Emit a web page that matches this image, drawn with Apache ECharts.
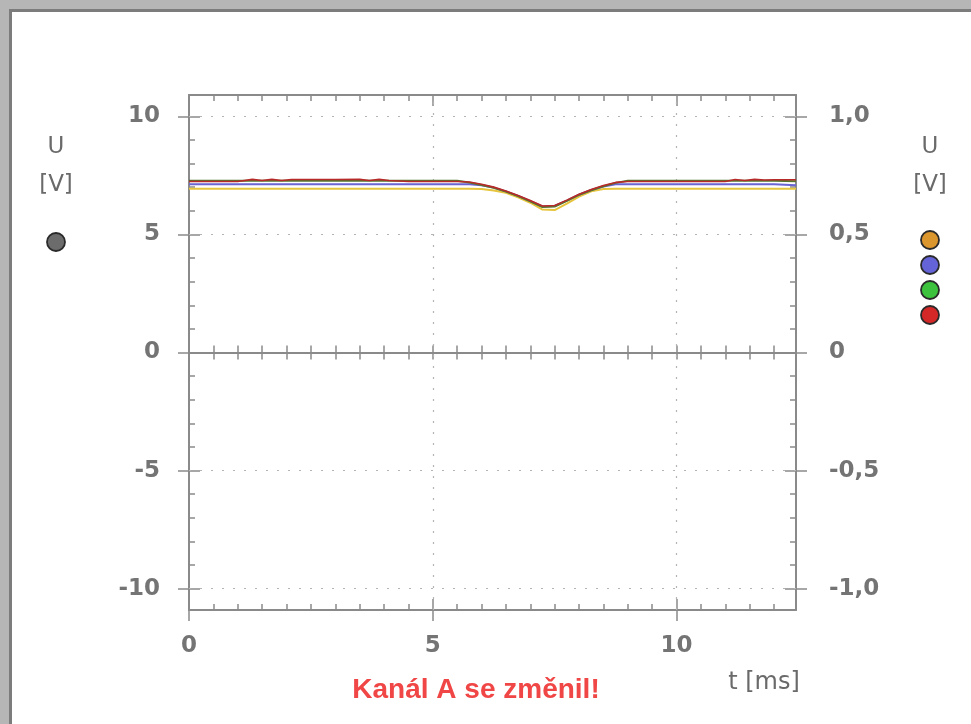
<!DOCTYPE html>
<html>
<head>
<meta charset="utf-8">
<script src="https://cdn.jsdelivr.net/npm/echarts@6/dist/echarts.min.js"></script>
<style>
  html, body { margin: 0; padding: 0; background: #ffffff; }
  #chart { width: 971px; height: 724px; }
</style>
</head>
<body>
<div id="chart"></div>
<script>
// Sample times of the captured traces [ms]
const timeMs = [0, 0.5, 1.0, 1.3, 1.5, 1.7, 1.9, 2.1,
  2.5, 3.0, 3.5, 3.7, 3.9, 4.1, 4.5, 5.0,
  5.5, 5.75, 6.0, 6.25, 6.5, 6.75, 7.0, 7.25,
  7.5, 7.75, 8.0, 8.25, 8.5, 8.75, 9.0, 9.5,
  10.0, 10.5, 11.0, 11.2, 11.4, 11.6, 11.8, 12.0,
  12.45];

// Channel voltages on the right-hand scale [V]
const kanalB = [0.693, 0.693, 0.693, 0.693, 0.693, 0.693, 0.693, 0.693,
  0.693, 0.693, 0.693, 0.693, 0.693, 0.693, 0.693, 0.693,
  0.693, 0.693, 0.692, 0.686, 0.676, 0.657, 0.634, 0.605,
  0.603, 0.630, 0.660, 0.682, 0.692, 0.693, 0.693, 0.693,
  0.693, 0.693, 0.693, 0.693, 0.693, 0.693, 0.693, 0.693,
  0.693];
const kanalC = [0.712, 0.712, 0.712, 0.712, 0.712, 0.712, 0.712, 0.712,
  0.712, 0.712, 0.712, 0.712, 0.712, 0.712, 0.712, 0.712,
  0.712, 0.712, 0.708, 0.698, 0.682, 0.663, 0.641, 0.618,
  0.620, 0.643, 0.668, 0.688, 0.703, 0.712, 0.712, 0.712,
  0.712, 0.712, 0.712, 0.712, 0.712, 0.712, 0.712, 0.712,
  0.708];
const kanalD = [0.727, 0.727, 0.727, 0.727, 0.727, 0.727, 0.727, 0.727,
  0.727, 0.727, 0.727, 0.727, 0.727, 0.727, 0.727, 0.727,
  0.727, 0.720, 0.709, 0.697, 0.681, 0.662, 0.640, 0.616,
  0.618, 0.642, 0.667, 0.687, 0.704, 0.718, 0.727, 0.727,
  0.727, 0.727, 0.727, 0.727, 0.727, 0.727, 0.727, 0.727,
  0.725];
const kanalE = [0.724, 0.724, 0.724, 0.733, 0.728, 0.733, 0.728, 0.732,
  0.732, 0.732, 0.733, 0.728, 0.733, 0.728, 0.724, 0.724,
  0.724, 0.722, 0.712, 0.700, 0.684, 0.665, 0.643, 0.620,
  0.622, 0.645, 0.670, 0.690, 0.707, 0.720, 0.724, 0.724,
  0.724, 0.724, 0.724, 0.732, 0.728, 0.733, 0.730, 0.731,
  0.731];

// Axis ticks
const leftTicks = [-10, -5, 0, 5, 10];
const leftMinorTicks = [-10, -9, -8, -7, -6, -5, -4, -3, -2, -1, 0, 1, 2, 3, 4, 5, 6, 7, 8, 9, 10];
const rightTicks = [-1.0, -0.5, 0, 0.5, 1.0];
const rightMinorTicks = [-1.0, -0.9, -0.8, -0.7, -0.6, -0.5, -0.4, -0.3, -0.2, -0.1, 0,
  0.1, 0.2, 0.3, 0.4, 0.5, 0.6, 0.7, 0.8, 0.9, 1.0];
const timeTicks = [0, 5, 10];
const timeMinorTicks = [0, 0.5, 1, 1.5, 2, 2.5, 3, 3.5, 4, 4.5, 5, 5.5, 6, 6.5, 7, 7.5, 8, 8.5, 9, 9.5, 10, 10.5, 11, 11.5, 12];
const gridTimes = [5, 10];
const gridVolts = [-1.0, -0.5, 0.5, 1.0];

const AXIS_GRAY = '#8a8a8a';
const LABEL_GRAY = '#6a6a6a';
const LABEL_FONT = { fontFamily: 'DejaVu Sans', fontWeight: 'bold', fontSize: 23, color: '#747474' };

const chart = echarts.init(document.getElementById('chart'), null, { renderer: 'canvas' });

function xAxisDef(o) {
  return Object.assign({
    type: 'value', min: 0, max: 12.45, position: 'bottom',
    axisLine: { show: false, onZero: false, lineStyle: { color: AXIS_GRAY, width: 2 } },
    axisTick: { show: false },
    axisLabel: { show: false },
    splitLine: { show: false }
  }, o);
}
function yAxisDef(o) {
  return Object.assign({
    type: 'value', position: 'left',
    axisLine: { show: false, onZero: false, lineStyle: { color: AXIS_GRAY, width: 2 } },
    axisTick: { show: false },
    axisLabel: { show: false },
    splitLine: { show: false }
  }, o);
}
function ticks(values, inside, length) {
  return { show: true, customValues: values, inside: inside, length: length,
    lineStyle: { color: AXIS_GRAY, width: 1.5 } };
}
const fmtRight = v => (Math.abs(v) < 1e-9 ? '0' : v.toFixed(1).replace('.', ','));

const xAxes = [
  // bottom frame with labels
  xAxisDef({
    axisLine: { show: true, onZero: false, lineStyle: { color: AXIS_GRAY, width: 2 } },
    axisTick: ticks(timeTicks, false, 11),
    axisLabel: Object.assign({ show: true, customValues: timeTicks, margin: 25 }, LABEL_FONT)
  }),
  xAxisDef({ axisTick: ticks(timeTicks, true, 11) }),
  xAxisDef({ axisTick: ticks(timeMinorTicks, true, 6) }),
  // top frame
  xAxisDef({
    position: 'top',
    axisLine: { show: true, onZero: false, lineStyle: { color: AXIS_GRAY, width: 2 } },
    axisTick: ticks(timeMinorTicks, true, 6)
  }),
  xAxisDef({ position: 'top', axisTick: ticks(timeTicks, true, 11) }),
  // zero line with crossing ticks
  xAxisDef({
    axisLine: { show: true, onZero: true, onZeroAxisIndex: 0, lineStyle: { color: AXIS_GRAY, width: 2 } },
    axisTick: ticks(timeMinorTicks, true, 7)
  }),
  xAxisDef({
    axisLine: { show: false, onZero: true, onZeroAxisIndex: 0 },
    axisTick: ticks(timeMinorTicks, false, 7)
  })
];

const yAxes = [
  // left scale (channel A)
  yAxisDef({
    min: -10.9, max: 10.9,
    axisLine: { show: true, onZero: false, lineStyle: { color: AXIS_GRAY, width: 2 } },
    axisTick: ticks(leftTicks, false, 11),
    axisLabel: Object.assign({ show: true, customValues: leftTicks, margin: 29 }, LABEL_FONT)
  }),
  yAxisDef({ min: -10.9, max: 10.9, axisTick: ticks(leftTicks, true, 11) }),
  yAxisDef({ min: -10.9, max: 10.9, axisTick: ticks(leftMinorTicks, true, 6) }),
  // right scale (channels B-E)
  yAxisDef({
    min: -1.09, max: 1.09, position: 'right',
    axisLine: { show: true, onZero: false, lineStyle: { color: AXIS_GRAY, width: 2 } },
    axisTick: ticks(rightTicks, false, 11),
    axisLabel: Object.assign({ show: true, customValues: rightTicks, margin: 33, formatter: fmtRight }, LABEL_FONT)
  }),
  yAxisDef({ min: -1.09, max: 1.09, position: 'right', axisTick: ticks(rightTicks, true, 11) }),
  yAxisDef({ min: -1.09, max: 1.09, position: 'right', axisTick: ticks(rightMinorTicks, true, 6) })
];

function trace(name, values, color, extra) {
  return Object.assign({
    name: name, type: 'line', xAxisIndex: 0, yAxisIndex: 3,
    data: timeMs.map((t, i) => [t, values[i]]),
    showSymbol: false, symbol: 'none',
    lineStyle: { color: color, width: 2 },
    itemStyle: { color: color },
    z: 3, animation: false
  }, extra || {});
}

const dotGrid = {
  silent: true, symbol: ['none', 'none'], z: 1, animation: false,
  label: { show: false },
  lineStyle: { color: '#b4b4b4', width: 1.2, type: [2, 9] },
  data: gridTimes.map(t => ({ xAxis: t })).concat(gridVolts.map(v => ({ yAxis: v })))
};

const dot = (x, y, fill) => ({
  type: 'circle', shape: { cx: x, cy: y, r: 9 },
  style: { fill: fill, stroke: '#2a2a2a', lineWidth: 1.8 }, z: 10
});
const txt = (x, y, text, extra) => ({
  type: 'text', x: x, y: y,
  style: Object.assign({ text: text, fill: LABEL_GRAY, font: '23px "DejaVu Sans"',
    align: 'center', verticalAlign: 'middle' }, extra || {}), z: 10
});

chart.setOption({
  animation: false,
  backgroundColor: '#ffffff',
  grid: { left: 189, right: 175, top: 95, bottom: 114 },
  xAxis: xAxes,
  yAxis: yAxes,
  series: [
    trace('Kanál B', kanalB, '#e6c43c', { markLine: dotGrid }),
    trace('Kanál C', kanalC, '#6a64d4'),
    trace('Kanál D', kanalD, '#56762e'),
    trace('Kanál E', kanalE, '#b82a2a', { lineStyle: { color: '#b82a2a', width: 1.6 } })
  ],
  graphic: [
    // window frame
    { type: 'rect', shape: { x: 0, y: 0, width: 971, height: 9 }, style: { fill: '#b6b6b6' }, z: 0 },
    { type: 'rect', shape: { x: 0, y: 0, width: 9, height: 724 }, style: { fill: '#b6b6b6' }, z: 0 },
    { type: 'rect', shape: { x: 9, y: 9, width: 962, height: 3 }, style: { fill: '#7c7c7c' }, z: 0 },
    { type: 'rect', shape: { x: 9, y: 9, width: 3, height: 715 }, style: { fill: '#7c7c7c' }, z: 0 },
    // axis units
    txt(56, 147, 'U'),
    txt(56, 185, '[V]'),
    txt(930, 147, 'U'),
    txt(930, 185, '[V]'),
    txt(764, 683, 't [ms]', { font: '24px "DejaVu Sans"' }),
    // channel markers
    dot(56, 242, '#6c6c6c'),
    dot(930, 240, '#dc962e'),
    dot(930, 265, '#6464d8'),
    dot(930, 290, '#3cc23c'),
    dot(930, 315, '#d42828'),
    // status message
    txt(476, 690, 'Kanál A se změnil!', { fill: '#f04646', font: 'bold 28px "Liberation Sans"' })
  ]
});
</script>
</body>
</html>
